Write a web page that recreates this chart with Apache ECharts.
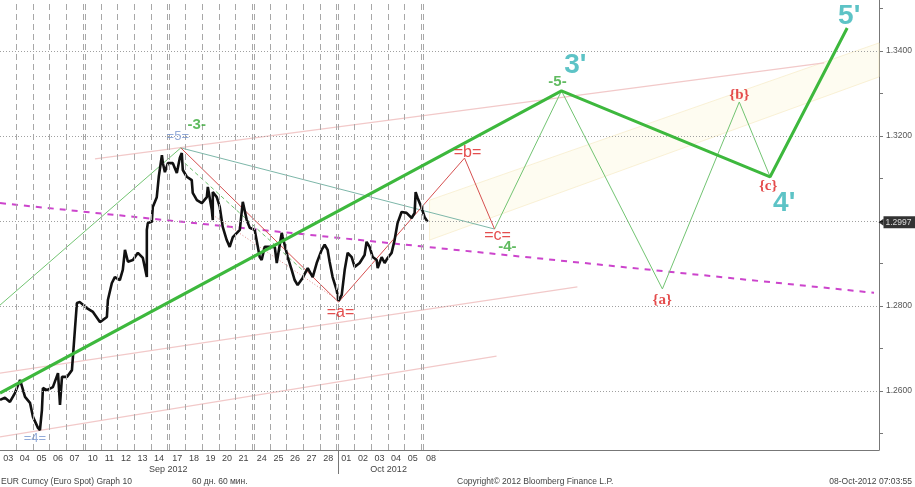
<!DOCTYPE html>
<html><head><meta charset="utf-8">
<script src="https://cdn.jsdelivr.net/npm/echarts@6/dist/echarts.min.js"></script>
<style>html,body{margin:0;padding:0;background:#fff}#c{width:915px;height:487px}</style>
</head><body><div id="c"></div>
<script>
// ---- categories / ticks ----
const dayLabels = ['03','04','05','06','07','10','11','12','13','14','17','18','19','20','21','24','25','26','27','28','01','02','03','04','05','08'];
const monthLabels = ['Sep 2012','Oct 2012'];
const monthFirstDayIndex = [0, 20];
const yLabelValues = [1.26, 1.28, 1.32, 1.34];
const yGridValues = [1.26, 1.28, 1.30, 1.32, 1.34];
const yMinorTicks = [1.25, 1.26, 1.27, 1.28, 1.29, 1.30, 1.31, 1.32, 1.33, 1.34, 1.35];
const lastPrice = 1.2997;
const yMin = 1.2461, yMax = 1.352;
const xMax = 53.04; // trading-day units incl. future

// ---- price path (x in trading-day units, EUR/USD) ----
const price = [[0.00,1.2579],[0.30,1.2584],[0.60,1.2574],[0.90,1.2595],[1.21,1.2626],[1.51,1.2586],[1.81,1.2572],[1.99,1.2539],[2.29,1.2513],[2.41,1.2508],[2.53,1.2555],[2.59,1.2607],[2.83,1.2602],[3.19,1.2609],[3.50,1.2642],[3.62,1.2567],[3.74,1.2633],[4.04,1.2633],[4.34,1.2649],[4.40,1.2680],[4.52,1.2744],[4.64,1.2807],[4.82,1.2809],[5.24,1.2795],[5.61,1.2786],[6.03,1.2762],[6.45,1.2774],[6.51,1.2814],[6.75,1.2854],[6.93,1.2868],[7.23,1.2861],[7.41,1.2885],[7.54,1.2932],[7.72,1.2904],[8.02,1.2908],[8.32,1.2925],[8.62,1.2913],[8.86,1.2868],[8.86,1.2979],[8.92,1.2995],[9.16,1.2998],[9.22,1.3033],[9.46,1.3056],[9.58,1.3104],[9.77,1.3155],[9.83,1.3136],[9.95,1.3115],[10.13,1.3136],[10.43,1.3136],[10.67,1.3113],[10.85,1.3148],[10.97,1.3160],[11.03,1.3120],[11.27,1.3104],[11.57,1.3096],[11.63,1.3066],[11.88,1.3049],[12.18,1.3042],[12.48,1.3056],[12.54,1.3080],[12.78,1.3026],[12.84,1.3002],[12.84,1.3068],[13.08,1.3056],[13.26,1.3033],[13.44,1.2986],[13.68,1.2955],[13.86,1.2939],[14.05,1.2962],[14.47,1.2979],[14.65,1.3045],[14.89,1.3002],[15.07,1.2984],[15.37,1.2979],[15.67,1.2915],[15.79,1.2908],[15.97,1.2939],[16.58,1.2939],[16.70,1.2901],[17.00,1.2972],[17.06,1.2962],[17.36,1.2915],[17.60,1.2885],[17.78,1.2861],[17.96,1.2849],[18.26,1.2866],[18.57,1.2889],[18.87,1.2868],[19.11,1.2901],[19.41,1.2932],[19.59,1.2944],[19.77,1.2932],[19.89,1.2904],[20.07,1.2868],[20.31,1.2838],[20.43,1.2812],[20.62,1.2826],[20.80,1.2885],[20.98,1.2925],[21.22,1.2915],[21.40,1.2892],[21.70,1.2901],[22.00,1.2920],[22.12,1.2951],[22.30,1.2939],[22.49,1.2915],[22.73,1.2908],[22.79,1.2889],[23.03,1.2915],[23.21,1.2901],[23.39,1.2913],[23.63,1.2925],[23.81,1.2955],[23.99,1.2995],[24.23,1.3021],[24.53,1.3019],[24.84,1.3007],[25.02,1.3019],[25.08,1.3068],[25.20,1.3054],[25.44,1.3031],[25.62,1.3009],[25.80,1.2998]];

// ---- wave annotation lines ----
const waveThickGreen = [[0,1.2595],[33.88,1.3306],[46.47,1.3104],[51.12,1.3454]];
const waveThinGreenA = [[0,1.2802],[10.91,1.3172]];
const waveThinGreenB = [[29.84,1.2981],[33.88,1.3306],[39.97,1.2840],[44.61,1.3280],[46.47,1.3104]];
const waveTeal = [[10.91,1.3172],[29.84,1.2981]];
const waveRed = [[10.91,1.3172],[20.43,1.2809],[28.03,1.3148],[29.84,1.2981]];
const channelGreenDashed = [[11.15,1.3136],[18.38,1.2880]];
const channelRedDotted = [[12.84,1.3014],[20.37,1.2814]];
const trendMagenta = [[0,1.3042],[52.74,1.2831]];
const pinkLine1 = [[5.73,1.3146],[49.73,1.3372]];
const pinkLine2 = [[0,1.2642],[34.84,1.2845]];
const pinkLine3 = [[0,1.2492],[29.96,1.2682]];
const bandUpper = [[25.92,1.3049],[53.04,1.3419]];
const bandLower = [[25.92,1.2955],[53.04,1.3339]];

// ---- wave labels ----
const labelsBlue = [['=4=',2.11,1.2489],['=5=',10.73,1.3200]];
const labelsGreen = [['-3-',11.87,1.3226],['-4-',30.62,1.2939],['-5-',33.64,1.3327]];
const labelsRedPlain = [['=a=',20.55,1.2784],['=b=',28.21,1.3162],['=c=',30.02,1.2965]];
const labelsRedBrace = [['{a}',39.96,1.2814],['{b}',44.61,1.3296],['{c}',46.35,1.3082]];
const labelsTeal = [["3'",34.72,1.3367],["4'",47.32,1.3042],["5'",51.24,1.3482]];

// ---- layout helpers (derived from categories) ----
const dayPos = i => i + 0.1 * Math.floor(i / 5);
const dayCenters = dayLabels.map((d, i) => dayPos(i) + 0.5);
const vLines = [];
dayLabels.forEach((d, i) => {
  if (i === 0) return;
  vLines.push(dayPos(i) + (i % 5 === 0 ? 0.02 : 0));
  if (i % 5 === 0) vLines.push(dayPos(i) - 0.1);
});
const monthCenters = monthFirstDayIndex.map((s, k) => {
  const e = k + 1 < monthFirstDayIndex.length ? monthFirstDayIndex[k + 1] - 1 : dayLabels.length - 1;
  return (dayPos(s) + dayPos(e) + 1) / 2;
});
const monthSeps = monthFirstDayIndex.slice(1).map(i => dayPos(i));

const FONT = 'Liberation Sans';
function lineSeries(data, color, width, extra) {
  return Object.assign({
    type: 'line', data: data, symbol: 'none', silent: true, animation: false,
    lineStyle: { color: color, width: width }, z: 3
  }, extra || {});
}
function labelSeries(items, style) {
  return {
    type: 'scatter', symbolSize: 0, silent: true, animation: false, z: 10,
    data: items.map(a => ({ name: a[0], value: [a[1], a[2]] })),
    label: Object.assign({ show: true, position: 'inside', formatter: p => p.name, fontFamily: FONT }, style)
  };
}

const chart = echarts.init(document.getElementById('c'), null, { renderer: 'canvas' });
chart.setOption({
  animation: false,
  backgroundColor: '#ffffff',
  grid: { left: 0, right: 35, top: 0, bottom: 37 },
  title: [
    { text: 'EUR Curncy (Euro Spot) Graph 10', left: 1, top: 477, padding: 0, textStyle: { fontSize: 8.5, color: '#444', fontWeight: 'normal', fontFamily: FONT } },
    { text: '60 дн. 60 мин.', left: 192, top: 477, padding: 0, textStyle: { fontSize: 8.5, color: '#444', fontWeight: 'normal', fontFamily: FONT } },
    { text: 'Copyright© 2012 Bloomberg Finance L.P.', left: 457, top: 477, padding: 0, textStyle: { fontSize: 8.5, color: '#444', fontWeight: 'normal', fontFamily: FONT } },
    { text: '08-Oct-2012 07:03:55', right: 3, top: 477, padding: 0, textStyle: { fontSize: 8.5, color: '#444', fontWeight: 'normal', fontFamily: FONT } }
  ],
  xAxis: [
    { type: 'value', min: 0, max: xMax, position: 'bottom',
      axisLine: { show: true, onZero: false, lineStyle: { color: '#777', width: 1 } },
      axisTick: { show: false },
      axisLabel: { customValues: dayCenters, margin: 4, fontSize: 9, color: '#444', fontFamily: FONT,
        formatter: v => { const i = dayCenters.findIndex(c => Math.abs(c - v) < 0.01); return i >= 0 ? dayLabels[i] : ''; } },
      splitLine: { show: false } },
    { type: 'value', min: 0, max: xMax, position: 'bottom',
      axisLine: { show: false, onZero: false },
      axisTick: { show: true, customValues: monthSeps, length: 24, inside: false, lineStyle: { color: '#777' } },
      axisLabel: { customValues: monthCenters, margin: 15, fontSize: 9, color: '#444', fontFamily: FONT,
        formatter: v => { const i = monthCenters.findIndex(c => Math.abs(c - v) < 0.01); return i >= 0 ? monthLabels[i] : ''; } },
      splitLine: { show: false } }
  ],
  yAxis: {
    type: 'value', position: 'right', min: yMin, max: yMax, scale: true,
    axisLine: { show: true, onZero: false, lineStyle: { color: '#777' } },
    axisTick: { show: true, customValues: yMinorTicks, length: 4, inside: false, lineStyle: { color: '#777' } },
    axisLabel: { customValues: yLabelValues, margin: 7, fontSize: 8.5, color: '#555', fontFamily: FONT, formatter: v => v.toFixed(4) },
    splitLine: { show: false }
  },
  series: [
    // gridlines
    { type: 'line', data: [], silent: true, z: 1,
      markLine: { silent: true, symbol: ['none', 'none'], animation: false, label: { show: false },
        lineStyle: { color: '#a0a0a0', type: [1, 2], width: 1 },
        data: yGridValues.map(v => ({ yAxis: v })) } },
    { type: 'line', data: [], silent: true, z: 1,
      markLine: { silent: true, symbol: ['none', 'none'], animation: false, label: { show: false },
        lineStyle: { color: '#a8a8a8', type: [6, 4], width: 1 },
        data: vLines.map(v => ({ xAxis: v })) } },
    // yellow channel band
    { type: 'custom', silent: true, z: 2, data: [0],
      renderItem: (params, api) => {
        const pts = [api.coord(bandUpper[0]), api.coord(bandUpper[1]), api.coord(bandLower[1]), api.coord(bandLower[0])];
        return { type: 'polygon', shape: { points: pts }, style: { fill: 'rgba(253,245,215,0.35)', stroke: 'rgba(245,232,190,0.6)', lineWidth: 1 } };
      } },
    lineSeries(pinkLine1, '#f2c9c9', 1.2),
    lineSeries(pinkLine2, '#f2c9c9', 1.2),
    lineSeries(pinkLine3, '#f2c9c9', 1.2),
    lineSeries(trendMagenta, '#cc44cc', 2, { lineStyle: { color: '#cc44cc', width: 2, type: [6, 6] } }),
    lineSeries(channelGreenDashed, '#6cbf6c', 1, { lineStyle: { color: '#6cbf6c', width: 1, type: [4, 3] } }),
    lineSeries(channelRedDotted, '#e08a8a', 1, { lineStyle: { color: '#e08a8a', width: 1, type: [1, 2] } }),
    lineSeries(waveThinGreenA, '#72c472', 1),
    lineSeries(waveThinGreenB, '#72c472', 1),
    lineSeries(waveTeal, '#7db7a9', 1),
    lineSeries(waveRed, '#d65050', 1),
    // price
    { type: 'line', data: price, symbol: 'none', silent: true, z: 4,
      lineStyle: { color: '#111', width: 2.6, join: 'bevel' } },
    lineSeries(waveThickGreen, '#3db83d', 3, { z: 5 }),
    // last price tag on the axis
    { type: 'scatter', symbol: 'triangle', symbolSize: [7, 5], symbolRotate: 90, symbolOffset: [2, 0],
      itemStyle: { color: '#000' }, silent: true, clip: false, z: 12,
      data: [[xMax, lastPrice]],
      label: { show: true, position: 'right', distance: 0, formatter: () => lastPrice.toFixed(4),
        backgroundColor: '#000', color: '#fff', padding: [2, 4, 1, 2], fontSize: 8.5, fontFamily: FONT } },
    // labels
    labelSeries(labelsBlue, { color: '#7896d0', fontSize: 13 }),
    labelSeries(labelsGreen, { color: '#3aaa3a', fontSize: 15, fontWeight: 'bold' }),
    labelSeries(labelsRedPlain, { color: '#dd2222', fontSize: 16 }),
    labelSeries(labelsRedBrace, { color: '#dd1f1f', fontSize: 15, fontWeight: 'bold', fontFamily: 'Liberation Serif' }),
    labelSeries(labelsTeal, { color: '#34b4b8', fontSize: 28, fontWeight: 'bold' })
  ]
});
</script></body></html>
